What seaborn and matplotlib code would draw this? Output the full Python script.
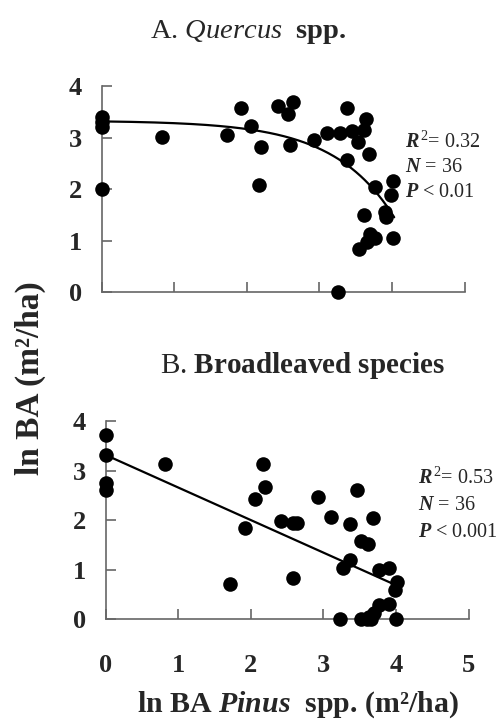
import numpy as np
import pandas as pd
import matplotlib
matplotlib.use("Agg")
import matplotlib.pyplot as plt
import seaborn as sns

# Panel A: Quercus spp. vs ln BA Pinus
quercus_x = [0, 0, 0, 0, 0.83, 1.73, 1.92, 2.05, 2.20, 2.17, 2.43, 2.63, 2.57, 2.59,
             2.93, 3.11, 3.28, 3.38, 3.45, 3.61, 3.53, 3.64, 3.38, 3.68, 3.77, 4.02,
             3.99, 3.61, 3.91, 3.92, 3.70, 3.76, 3.66, 3.55, 4.01, 3.26]
quercus_y = [3.41, 3.30, 3.21, 2.00, 3.02, 3.06, 3.58, 3.24, 2.82, 2.09, 3.61, 3.70,
             3.47, 2.87, 2.95, 3.10, 3.10, 3.59, 3.13, 3.15, 2.92, 3.37, 2.57, 2.68,
             2.05, 2.16, 1.89, 1.51, 1.56, 1.47, 1.14, 1.05, 0.98, 0.85, 1.05, 0.00]
# fitted curve y = a - b * exp(c * x)
curve_a, curve_b, curve_c = 3.335, 0.0149, 1.2

# Panel B: broadleaved species
broad_x = [0, 0, 0, 0, 0.82, 2.17, 2.19, 2.05, 1.92, 1.71, 2.42, 2.58, 2.64, 2.58,
           2.93, 3.10, 3.46, 3.37, 3.68, 3.52, 3.61, 3.37, 3.27, 3.76, 3.91, 4.02,
           3.99, 3.91, 3.77, 3.69, 3.23, 3.52, 3.60, 3.66, 3.63, 4.00]
broad_y = [3.72, 3.31, 2.76, 2.61, 3.13, 3.13, 2.68, 2.42, 1.85, 0.71, 1.98, 1.95,
           1.95, 0.84, 2.47, 2.07, 2.62, 1.92, 2.04, 1.57, 1.52, 1.20, 1.03, 1.00,
           1.03, 0.76, 0.59, 0.30, 0.28, 0.12, 0.00, 0.00, 0.00, 0.00, 0.05, 0.00]

stats_a = ["$\\mathbfit{R}^{\\,2}$= 0.32", "$\\mathbfit{N}$ = 36", "$\\mathbfit{P}$ < 0.01"]
stats_b = ["$\\mathbfit{R}^{\\,2}$= 0.53", "$\\mathbfit{N}$ = 36", "$\\mathbfit{P}$ < 0.001"]
y_ticks = [0, 1, 2, 3, 4]
x_ticks = [0, 1, 2, 3, 4, 5]

sns.set_style("ticks")
plt.rcParams['font.family'] = ['Liberation Serif', 'DejaVu Serif']
plt.rcParams['mathtext.fontset'] = 'custom'
plt.rcParams['mathtext.rm'] = 'Liberation Serif'
plt.rcParams['mathtext.it'] = 'Liberation Serif:italic'
plt.rcParams['mathtext.bf'] = 'Liberation Serif:bold'
plt.rcParams['mathtext.bfit'] = 'Liberation Serif:italic:bold'

df_a = pd.DataFrame({'x': quercus_x, 'y': quercus_y})
df_b = pd.DataFrame({'x': broad_x, 'y': broad_y})

fig = plt.figure(figsize=(4.99, 7.2), dpi=100)
ax_a = fig.add_axes([0.204, 0.594, 0.727, 0.286])
ax_b = fig.add_axes([0.212, 0.140, 0.727, 0.275])

spine_col = '#666666'

for ax, df in [(ax_a, df_a), (ax_b, df_b)]:
    sns.scatterplot(data=df, x='x', y='y', ax=ax, color='black', s=110,
                    edgecolor='black', linewidth=0, clip_on=False, zorder=3)
    ax.set_xlim(0, 5)
    ax.set_ylim(0, 4)
    ax.set_xticks(x_ticks)
    ax.set_yticks(y_ticks)
    ax.set_xlabel('')
    ax.set_ylabel('')
    for side in ['top', 'right']:
        ax.spines[side].set_visible(False)
    for side in ['left', 'bottom']:
        ax.spines[side].set_color(spine_col)
        ax.spines[side].set_linewidth(1.2)
    ax.tick_params(direction='in', length=7, width=1.2, color=spine_col,
                   labelsize=19, pad=14)
    for lab in ax.get_yticklabels():
        lab.set_fontweight('bold')

# panel A: curve, no x labels
xs = np.linspace(0, 4.03, 200)
ax_a.plot(xs, curve_a - curve_b * np.exp(curve_c * xs), color='black', lw=1.6, zorder=2)
ax_a.tick_params(axis='x', labelbottom=False)

# panel B: linear fit
sns.regplot(data=df_b, x='x', y='y', ax=ax_b, scatter=False, ci=None, truncate=True,
            line_kws={'color': 'black', 'lw': 1.6, 'zorder': 2})
ax_b.set_xlabel('')
ax_b.set_ylabel('')
ax_b.set_xlim(0, 5)
ax_b.tick_params(axis='x', pad=25)
for lab in ax_b.get_xticklabels():
    lab.set_fontweight('bold')

# titles
fig.text(0.497, 0.955, "A. $\\mathit{Quercus}$  $\\mathbf{spp.}$", ha='center', va='center',
         fontsize=20.5)
fig.text(0.607, 0.493, "B. $\\mathbf{Broadleaved\\ species}$", ha='center', va='center',
         fontsize=21)

# axis labels
fig.text(0.06, 0.475, "ln BA (m²/ha)", rotation=90, ha='center', va='center',
         fontsize=24, fontweight='bold')
fig.text(0.597, 0.021, "ln BA $\\mathbfit{Pinus}$  spp. (m²/ha)", ha='center', va='center',
         fontsize=21.5, fontweight='bold')

# statistics
for i, s in enumerate(stats_a):
    fig.text(0.812, 0.803 - i * 0.0355, s, ha='left', va='center', fontsize=14.5)
for i, s in enumerate(stats_b):
    fig.text(0.838, 0.336 - i * 0.0375, s, ha='left', va='center', fontsize=14.5)

fig.savefig('out.png', dpi=100)
